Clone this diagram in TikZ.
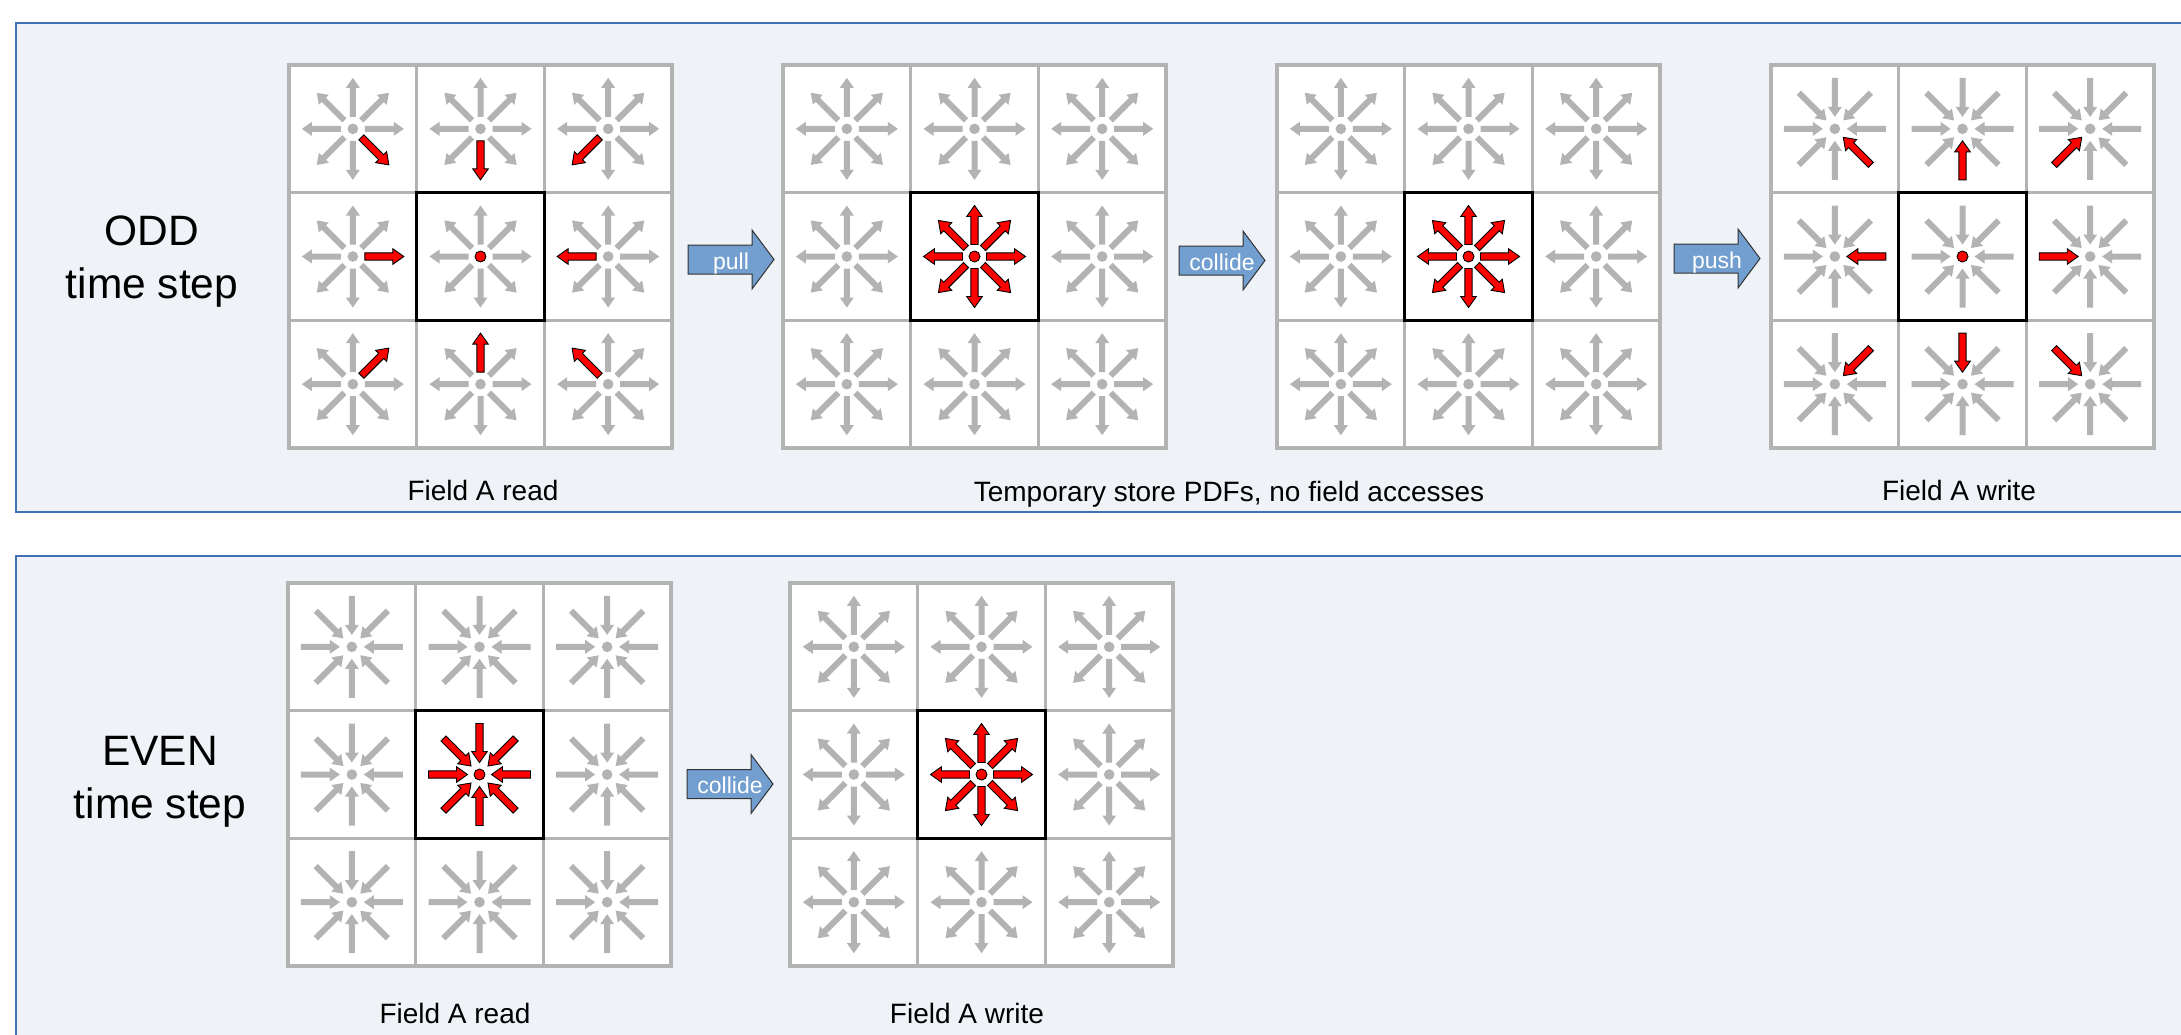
\documentclass[tikz,border=0pt]{standalone}
\usepackage{fontspec}
\setmainfont{Liberation Sans}
\definecolor{panelfill}{RGB}{239,243,248}
\definecolor{panelline}{RGB}{66,113,184}
\definecolor{lgray}{RGB}{179,179,179}
\definecolor{blockfill}{RGB}{114,159,207}
\tikzset{
 panel/.style={fill=panelfill, draw=panelline, line width=2pt},
 garrow/.style={fill=lgray},
 rarrow/.style={fill=red, draw=black, line width=0.9pt, line join=miter},
 gridline/.style={draw=lgray, line width=3.2pt},
 centerbox/.style={draw=black, line width=3.3pt},
 blockarrow/.style={fill=blockfill, draw=black!80, line width=1pt},
 arrowtext/.style={text=white, font=\fontsize{23}{27}\selectfont, inner sep=0pt},
 labeltext/.style={font=\fontsize{28}{34}\selectfont, inner sep=0pt},
 steptext/.style={font=\fontsize{42.5}{53}\selectfont, inner sep=0pt},
}
\def\cs{127.67}
\newcommand\ArOut[7]{\begin{scope}[shift={(#2,#3)},rotate=#4]\path[#1] (12,-#5) -- ({51-#7},-#5) -- ({51-#7},-#6) -- (51,0) -- ({51-#7},#6) -- ({51-#7},#5) -- (12,#5) -- cycle;\end{scope}}
\newcommand\ArIn[7]{\begin{scope}[shift={(#2,#3)},rotate=#4]\path[#1] (51,-#5) -- ({12+#7},-#5) -- ({12+#7},-#6) -- (12,0) -- ({12+#7},#6) -- ({12+#7},#5) -- (51,#5) -- cycle;\end{scope}}
\newcommand\Grid[3]{%
 \fill[white] (#1,#2) rectangle ({#1+3*\cs},{#2+3*\cs});
 \foreach \i in {0,1,2}{\foreach \j in {0,1,2}{%
   \pgfmathsetmacro\cx{#1+(\i+0.5)*\cs}%
   \pgfmathsetmacro\cy{#2+(\j+0.5)*\cs}%
   \foreach \a in {0,45,...,315}{#3{garrow}{\cx}{\cy}{\a}{3}{7}{10}}%
   \fill[lgray] (\cx,\cy) circle (5.3pt);
 }}%
 \draw[gridline] (#1,#2) rectangle ({#1+3*\cs},{#2+3*\cs});
 \draw[gridline] ({#1+\cs},#2) -- ({#1+\cs},{#2+3*\cs}) ({#1+2*\cs},#2) -- ({#1+2*\cs},{#2+3*\cs})
   (#1,{#2+\cs}) -- ({#1+3*\cs},{#2+\cs}) (#1,{#2+2*\cs}) -- ({#1+3*\cs},{#2+2*\cs});
 \draw[centerbox] ({#1+\cs},{#2+\cs}) rectangle ({#1+2*\cs},{#2+2*\cs});
}
\newcommand\NbrRed[3]{\foreach \i/\j/\a in {0/0/315,1/0/270,2/0/225,0/1/0,2/1/180,0/2/45,1/2/90,2/2/135}{%
 \pgfmathsetmacro\cx{#1+(\i+0.5)*\cs}\pgfmathsetmacro\cy{#2+(\j+0.5)*\cs}%
 #3{rarrow}{\cx}{\cy}{\a}{3.6}{7.8}{11}}}
\newcommand\CenRed[3]{\pgfmathsetmacro\cx{#1+1.5*\cs}\pgfmathsetmacro\cy{#2+1.5*\cs}%
 \foreach \a in {0,45,...,315}{#3{rarrow}{\cx}{\cy}{\a}{3.6}{7.8}{11}}}
\newcommand\CenDot{}
\renewcommand\CenDot[2]{\filldraw[fill=red,draw=black,line width=0.9pt] ({#1+1.5*\cs},{#2+1.5*\cs}) circle (5.5pt);}
\newcommand\BArrow[4]{%
 \path[blockarrow] (#2,{#3-14.5}) -- ({#2+64},{#3-14.5}) -- ({#2+64},{#3-29.5}) -- ({#2+86},#3)
   -- ({#2+64},{#3+29.5}) -- ({#2+64},{#3+14.5}) -- (#2,{#3+14.5}) -- cycle;
 \node[arrowtext, anchor=base] (#1) at ({#2+43},{#3+9.5}) {#4};}
\begin{document}
\begin{tikzpicture}[x=1pt,y=-1pt]
\useasboundingbox (0,0) rectangle (2181,1034);
\clip (0,0) rectangle (2181,1034);
\fill[white] (0,0) rectangle (2181,1034);
% panels
\draw[panel] (16,23) rectangle (2210,512);
\draw[panel] (16,556) rectangle (2210,1060);
% ODD row
\Grid{289}{65}{\ArOut}
\NbrRed{289}{65}{\ArOut}
\CenDot{289}{65}
\Grid{783}{65}{\ArOut}
\CenRed{783}{65}{\ArOut}
\CenDot{783}{65}
\Grid{1277}{65}{\ArOut}
\CenRed{1277}{65}{\ArOut}
\CenDot{1277}{65}
\Grid{1771}{65}{\ArIn}
\NbrRed{1771}{65}{\ArIn}
\CenDot{1771}{65}
\BArrow{pull}{688}{259.5}{pull}
\BArrow{collideA}{1179}{260.5}{collide}
\BArrow{push}{1674}{258.5}{push}
% EVEN row
\Grid{288}{583}{\ArIn}
\CenRed{288}{583}{\ArIn}
\CenDot{288}{583}
\Grid{790}{583}{\ArOut}
\CenRed{790}{583}{\ArOut}
\CenDot{790}{583}
\BArrow{collideB}{687}{784}{collide}
% texts
\node[steptext, anchor=base] (odd1) at (152,245) {ODD};
\node[steptext, anchor=base] (odd2) at (152,298) {time step};
\node[steptext, anchor=base] (even1) at (160,765) {EVEN};
\node[steptext, anchor=base] (even2) at (160,818) {time step};
\node[labeltext, anchor=base] (lab1) at (483,500) {Field A read};
\node[labeltext, anchor=base] (lab2) at (1229,501) {Temporary store PDFs, no field accesses};
\node[labeltext, anchor=base] (lab3) at (1959,500) {Field A write};
\node[labeltext, anchor=base] (lab4) at (455,1023) {Field A read};
\node[labeltext, anchor=base] (lab5) at (967,1023) {Field A write};
\end{tikzpicture}
\end{document}
